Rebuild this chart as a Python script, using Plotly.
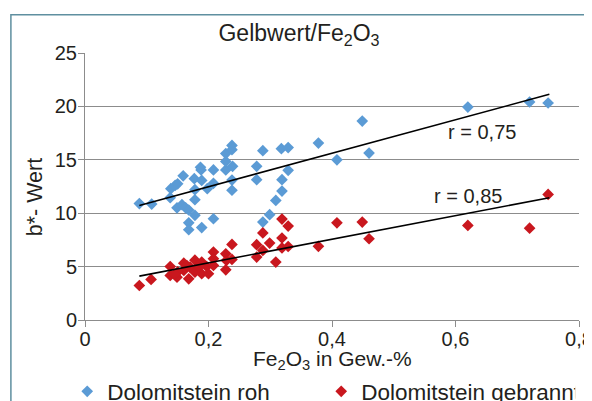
import plotly.graph_objects as go

# Dolomitstein roh (Fe2O3 in Gew.-%, b*-Wert)
roh_x = [0.088, 0.108, 0.138, 0.139, 0.146, 0.150, 0.159, 0.149, 0.157, 0.163,
         0.168, 0.178, 0.178, 0.178, 0.177, 0.188, 0.189, 0.187, 0.168, 0.168,
         0.189, 0.208, 0.198, 0.208, 0.208, 0.228, 0.228, 0.228, 0.238, 0.238,
         0.239, 0.238, 0.238, 0.278, 0.278, 0.288, 0.318, 0.329, 0.329, 0.319,
         0.319, 0.309, 0.299, 0.288, 0.378, 0.408, 0.449, 0.460, 0.620, 0.720,
         0.750]
roh_y = [10.9, 10.85, 11.45, 12.3, 12.6, 12.75, 13.5, 10.5, 10.8, 10.5,
         10.3, 9.8, 11.26, 12.2, 13.23, 14.05, 13.07, 14.3, 9.1, 8.45,
         8.65, 9.48, 12.3, 12.8, 14.05, 14.05, 14.85, 15.58, 16.35, 15.95,
         14.39, 13.1, 12.15, 14.39, 13.14, 15.85, 16.04, 16.14, 14.01, 13.14,
         12.07, 11.2, 9.86, 9.17, 16.57, 15.0, 18.63, 15.63, 19.94, 20.41,
         20.32]

# Dolomitstein gebrannt
gebr_x = [0.088, 0.107, 0.138, 0.138, 0.149, 0.160, 0.160, 0.168, 0.170, 0.178,
          0.178, 0.189, 0.189, 0.200, 0.197, 0.208, 0.208, 0.208, 0.228, 0.228,
          0.229, 0.238, 0.238, 0.278, 0.278, 0.288, 0.288, 0.299, 0.309, 0.319,
          0.329, 0.319, 0.319, 0.329, 0.378, 0.408, 0.449, 0.460, 0.620, 0.720,
          0.750, 0.150, 0.165, 0.185, 0.145]
gebr_y = [3.23, 3.8, 5.01, 4.17, 4.01, 5.32, 4.64, 3.86, 4.95, 5.6,
          4.48, 5.42, 4.33, 4.33, 5.01, 6.36, 5.74, 5.11, 6.2, 4.7,
          5.58, 5.67, 7.08, 7.05, 5.89, 8.15, 6.51, 7.2, 5.42, 9.45,
          8.79, 7.68, 6.75, 6.88, 6.9, 9.1, 9.17, 7.61, 8.86, 8.6,
          11.76, 4.5, 5.1, 5.0, 4.3]

# Trendlinien (Endpunkte)
trend_x = [0.088, 0.752]
trend_roh = [10.73, 21.13]
trend_gebr = [4.11, 11.45]

FONT = "Liberation Sans, Arial, sans-serif"
TXT = "#231f20"
GRID = "#8c8c8c"

fig = go.Figure()

fig.add_trace(go.Scatter(
    x=roh_x, y=roh_y, mode="markers", name="Dolomitstein roh",
    marker=dict(symbol="diamond", size=9, color="#5b9bd5")
))
fig.add_trace(go.Scatter(
    x=gebr_x, y=gebr_y, mode="markers", name="Dolomitstein gebrannt",
    marker=dict(symbol="diamond", size=9, color="#c9171e")
))

# Trendlines
for ty in (trend_roh, trend_gebr):
    fig.add_trace(go.Scatter(
        x=trend_x, y=ty, mode="lines", showlegend=False, hoverinfo="skip",
        line=dict(color="black", width=1.6)
    ))

fig.add_annotation(x=0.643, y=17.6, text="r = 0,75", showarrow=False,
                   font=dict(size=20, color=TXT, family=FONT))
fig.add_annotation(x=0.620, y=11.57, text="r = 0,85", showarrow=False,
                   font=dict(size=20, color=TXT, family=FONT))

# axis titles placed as annotations
fig.add_annotation(xref="paper", yref="paper", x=0.5, y=0, yshift=-40,
                   text="Fe<sub>2</sub>O<sub>3</sub> in Gew.-%", showarrow=False,
                   yanchor="middle", font=dict(size=21, color=TXT, family=FONT))
fig.add_annotation(xref="paper", yref="paper", x=-0.101, y=0.46,
                   text="b*- Wert", textangle=-90, showarrow=False,
                   xanchor="center", yanchor="middle",
                   font=dict(size=21.5, color=TXT, family=FONT))

# outer frame (runs off the right and bottom edge)
fig.add_shape(type="rect", xref="paper", yref="paper",
              x0=-0.150, x1=1.2, y0=-0.6, y1=1.143,
              line=dict(color="#5f8fa0", width=1.5))

# the page puts the figure 8px in from the top-left corner, so the
# margins are set 8px smaller on the left/top
fig.update_layout(
    width=592, height=401,
    margin=dict(l=77, r=21, t=45, b=89, autoexpand=False),
    paper_bgcolor="white", plot_bgcolor="white",
    separators=",.",
    font=dict(family=FONT, size=20, color=TXT),
    title=dict(text="Gelbwert/Fe<sub>2</sub>O<sub>3</sub>",
               x=0.4916, xref="container", y=1 - 25 / 401, yref="container",
               xanchor="center", yanchor="middle",
               font=dict(size=23, color=TXT, family=FONT)),
    xaxis=dict(range=[0, 0.8], dtick=0.2, showgrid=False, zeroline=False,
               showline=True, linecolor=GRID, linewidth=1,
               ticks="outside", ticklen=6, tickcolor=GRID,
               ticklabelstandoff=-5,
               ticklabeloverflow="allow", automargin=False),
    yaxis=dict(range=[0, 25], dtick=5, showgrid=True, gridcolor=GRID, gridwidth=1,
               zeroline=False, showline=True, linecolor=GRID, linewidth=1,
               ticks="outside", ticklen=6, tickcolor=GRID,
               ticklabelstandoff=-3, automargin=False),
    legend=dict(orientation="h", x=-0.036, xanchor="left", y=-0.188, yanchor="top",
                entrywidth=209, font=dict(size=22.5), itemwidth=30,
                bgcolor="rgba(0,0,0,0)"),
    showlegend=True,
)

fig.write_html("out.html")
